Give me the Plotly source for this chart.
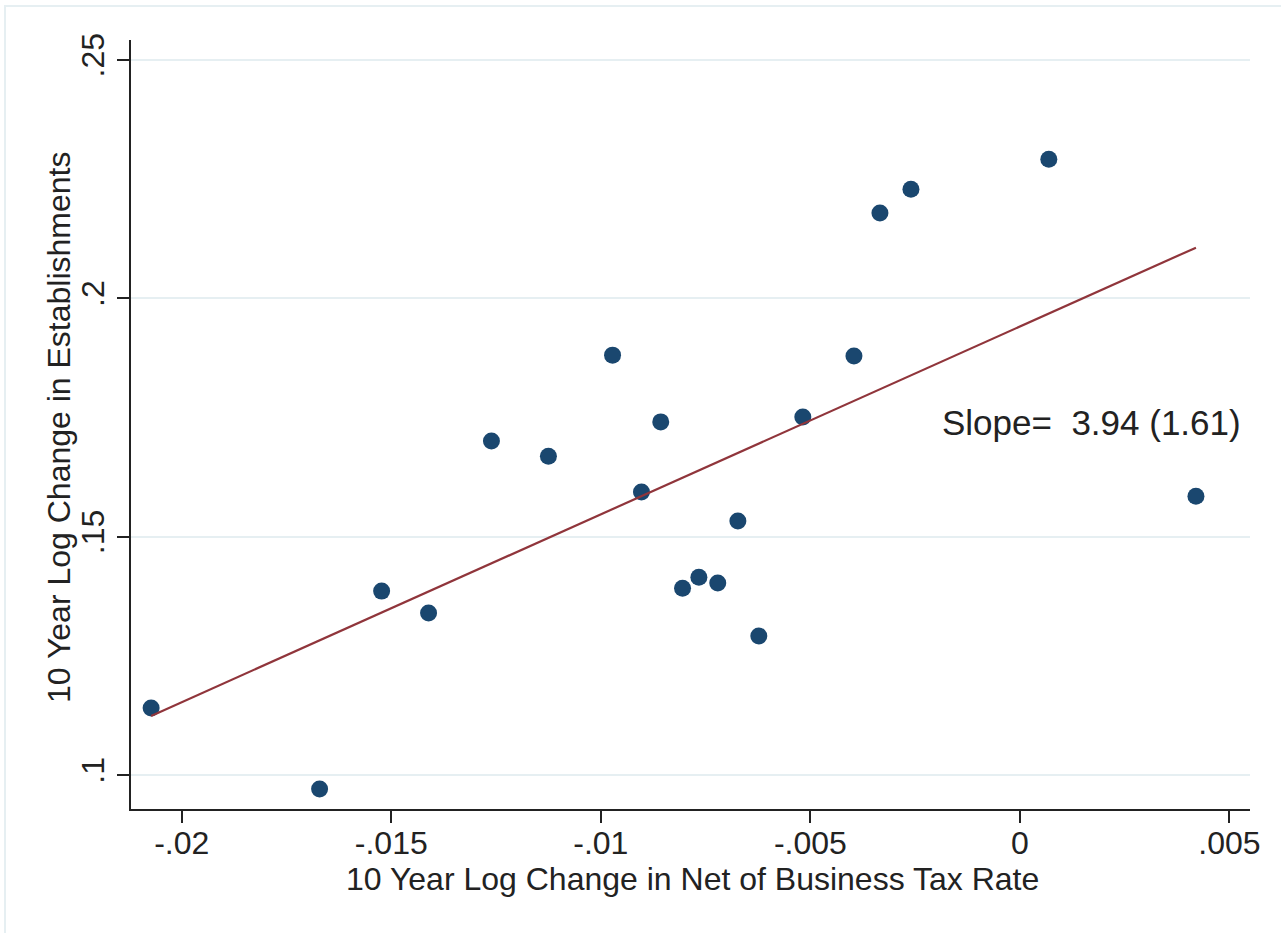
import plotly.graph_objects as go

# Data
tax_change = [-0.02073, -0.01671, -0.01523, -0.01411, -0.01261, -0.01125, -0.00972,
              -0.00903, -0.00857, -0.00805, -0.00766, -0.00721, -0.00673, -0.00623,
              -0.00518, -0.00396, -0.00334, -0.00260, 0.00069, 0.00420]
estab_change = [0.1141, 0.0971, 0.1386, 0.1340, 0.1701, 0.1669, 0.1881,
                0.1594, 0.1741, 0.1392, 0.1415, 0.1403, 0.1533, 0.1292,
                0.1751, 0.1879, 0.2179, 0.2229, 0.2292, 0.1585]

fit_slope = 3.94
fit_intercept = 0.1941
fit_x = [min(tax_change), max(tax_change)]
fit_y = [fit_intercept + fit_slope * v for v in fit_x]

x_ticks = [-0.02, -0.015, -0.01, -0.005, 0, 0.005]
x_tick_text = ["-.02", "-.015", "-.01", "-.005", "0", ".005"]
y_ticks = [0.1, 0.15, 0.2, 0.25]
y_tick_text = [".1", ".15", ".2", ".25"]

FONT = "Liberation Sans, Arial, Helvetica, sans-serif"
TXT = "#222222"
FS = 32

W, H = 1281, 933
L, R, T, B = 131, 31, 40, 124
PW = W - L - R
PH = H - T - B

fig = go.Figure()
fig.add_trace(go.Scatter(x=tax_change, y=estab_change, mode="markers",
                         marker=dict(color="#1a476f", size=17, line=dict(width=0)),
                         showlegend=False, hoverinfo="skip"))
fig.add_trace(go.Scatter(x=fit_x, y=fit_y, mode="lines",
                         line=dict(color="#90353b", width=2.2),
                         showlegend=False, hoverinfo="skip"))

fig.add_annotation(x=-0.00186, y=0.1736, xref="x", yref="y",
                   text="Slope=\u00a0\u00a03.94 (1.61)", showarrow=False,
                   xanchor="left", yanchor="middle", xshift=-2, yshift=2,
                   font=dict(family=FONT, size=35, color=TXT))

# y axis title
fig.add_annotation(x=(59 - L) / PW, y=1 - (427 - T) / PH, xref="paper", yref="paper",
                   text="10 Year Log Change in Establishments", showarrow=False,
                   textangle=-90, xanchor="center", yanchor="middle",
                   font=dict(family=FONT, size=FS, color=TXT))

# x axis title
fig.add_annotation(x=(692 - L) / PW, y=-(879 - T - PH) / PH, xref="paper", yref="paper",
                   text="10 Year Log Change in Net of Business Tax Rate", showarrow=False,
                   xanchor="center", yanchor="middle",
                   font=dict(family=FONT, size=FS, color=TXT))

# light outer frame of the graph region
fig.add_shape(type="rect", xref="paper", yref="paper",
              x0=(5 - L) / PW, x1=(W + 10 - L) / PW,
              y0=-(H + 10 - T - PH) / PH, y1=1 + (T - 6) / PH,
              line=dict(color="#e6eff2", width=2), fillcolor="rgba(0,0,0,0)", layer="below")

fig.update_layout(
    width=W, height=H,
    margin=dict(l=L, r=R, t=T, b=B),
    paper_bgcolor="white", plot_bgcolor="white",
    font=dict(family=FONT, size=FS, color=TXT),
    xaxis=dict(range=[-0.02121, 0.00549], tickvals=x_ticks, ticktext=x_tick_text,
               showgrid=False, zeroline=False, showline=True, linecolor="#222222",
               linewidth=2, ticks="outside", ticklen=12, tickwidth=2, tickcolor="#222222",
               tickfont=dict(size=FS, color=TXT), ticklabelstandoff=-7),
    yaxis=dict(range=[0.0929, 0.2542], tickvals=y_ticks, ticktext=y_tick_text,
               showgrid=True, gridcolor="#e6eff2", gridwidth=2, zeroline=False,
               showline=True, linecolor="#222222", linewidth=2,
               ticks="outside", ticklen=12, tickwidth=2, tickcolor="#222222",
               tickangle=-90, tickfont=dict(size=FS, color=TXT)),
)

fig.write_html("out.html", config={"displayModeBar": False},
               post_script="document.body.style.margin='0px';")
